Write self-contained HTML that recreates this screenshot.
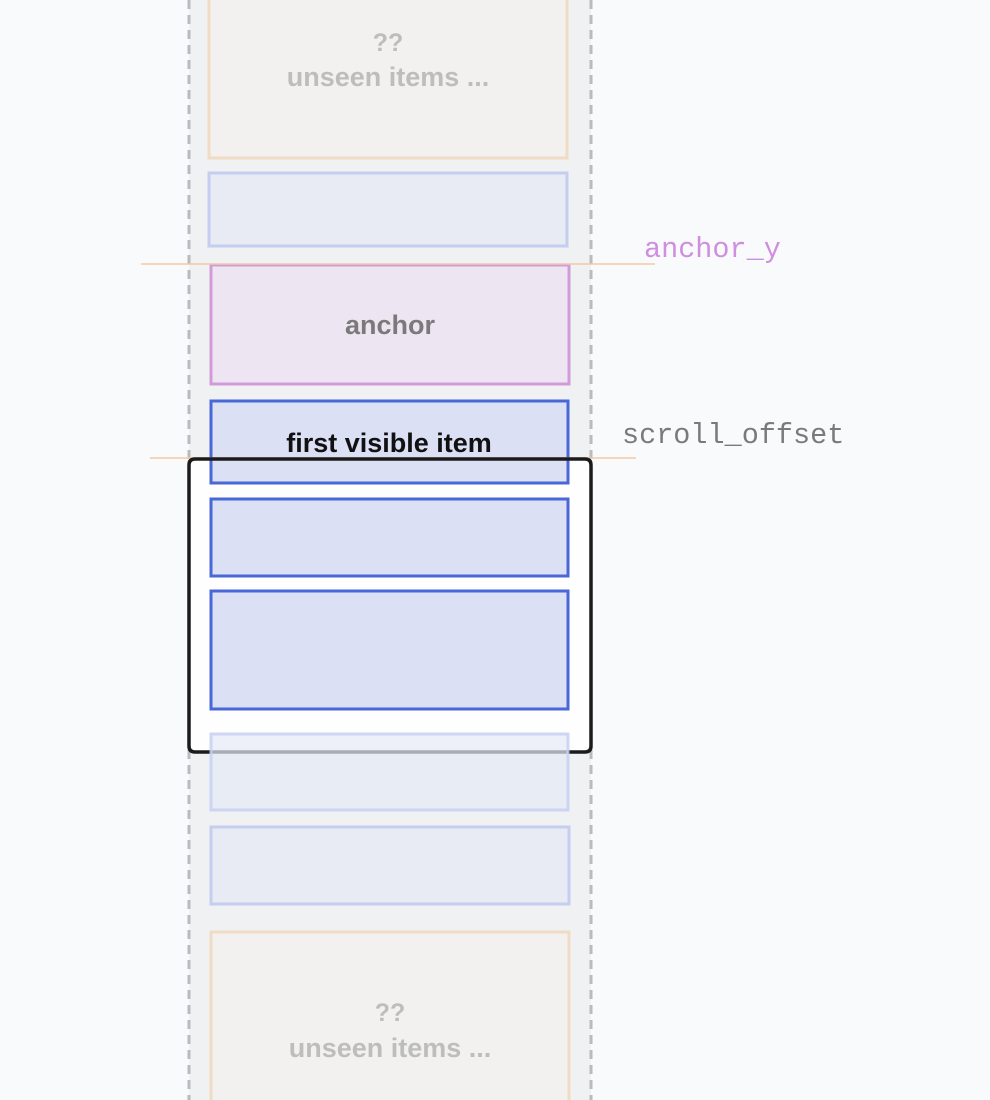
<!DOCTYPE html>
<html><head><meta charset="utf-8"><style>
html,body{margin:0;padding:0;background:#f8fafc;width:990px;height:1100px;overflow:hidden}
svg{display:block}
</style></head><body>
<svg width="990" height="1100" viewBox="0 0 990 1100" xmlns="http://www.w3.org/2000/svg">
<rect x="189" y="0" width="402" height="1100" fill="#eff1f3"/>
<line x1="189" y1="0" x2="189" y2="1100" stroke="#b8bcbf" stroke-width="3" stroke-dasharray="9,6"/>
<line x1="591" y1="0" x2="591" y2="1100" stroke="#b8bcbf" stroke-width="3" stroke-dasharray="9,6"/>
<rect x="189" y="459" width="402" height="293" rx="6" fill="#ffffff" fill-opacity="0.92"/>
<g stroke-width="3">
<rect x="209" y="-10" width="358" height="168" fill="#f2f1ef" stroke="#f0dcc4"/>
<rect x="209" y="173" width="358" height="73" fill="#e8ebf3" stroke="#c5cdf0"/>
<rect x="211" y="265" width="358" height="119" fill="#ede6f2" stroke="#d39ad9"/>
<rect x="211" y="401" width="357" height="82" fill="#dbe0f5" stroke="#4a67d8"/>
<rect x="211" y="499" width="357" height="77" fill="#dbe0f5" stroke="#4a67d8"/>
<rect x="211" y="591" width="357" height="118" fill="#dbe0f5" stroke="#4a67d8"/>
<rect x="211" y="827" width="358" height="77" fill="#e8ebf3" stroke="#c5cdf0"/>
<rect x="211" y="932" width="358" height="180" fill="#f2f1ef" stroke="#f0dcc4"/>
</g>
<line x1="141" y1="264" x2="655" y2="264" stroke="#f2c9a8" stroke-width="1.5"/>
<line x1="150" y1="458" x2="636" y2="458" stroke="#f2c9a8" stroke-width="1.5"/>
<path d="M195 459 H585 Q591 459 591 465 V746 Q591 752 585 752 H195 Q189 752 189 746 V465 Q189 459 195 459 Z" fill="none" stroke="#1b1b1b" stroke-width="3.5"/>
<rect x="211" y="734" width="357" height="76" fill="#e6e9f5" fill-opacity="0.7" stroke="#c8d0f3" stroke-opacity="0.85" stroke-width="3"/>
<g font-family="Liberation Sans, sans-serif" text-anchor="middle" font-weight="bold">
<text x="388" y="51" font-size="25" fill="#bdbdbd">??</text>
<text x="388" y="86" font-size="27" fill="#bdbdbd">unseen items ...</text>
<text x="390" y="334" font-size="27" fill="#7a7a7a">anchor</text>
<text x="389" y="452" font-size="27" fill="#111">first visible item</text>
<text x="390" y="1021" font-size="25" fill="#bdbdbd">??</text>
<text x="390" y="1057" font-size="27" fill="#bdbdbd">unseen items ...</text>
</g>
<g font-family="Liberation Mono, monospace" font-size="28.5">
<text x="644" y="257" fill="#d08ee0">anchor_y</text>
<text x="622" y="443" fill="#7a7a7a">scroll_offset</text>
</g>
</svg>
</body></html>
